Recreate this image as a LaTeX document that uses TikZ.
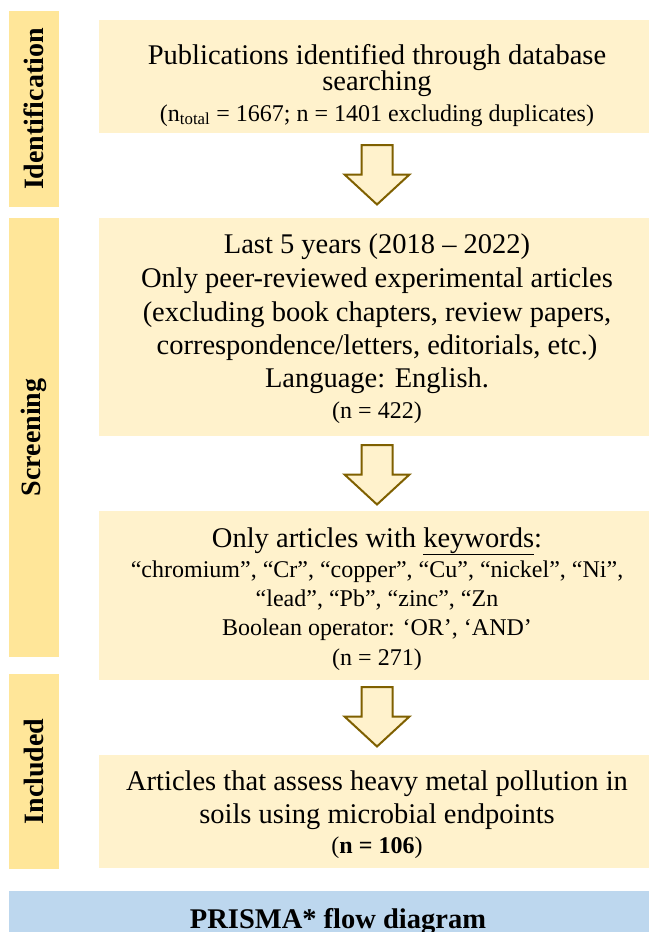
\documentclass[tikz,border=0pt]{standalone}
\usepackage{fontspec}
\setmainfont{Liberation Serif}
\definecolor{sidebar}{HTML}{FFE699}
\definecolor{boxfill}{HTML}{FFF2CC}
\definecolor{bluebar}{HTML}{BDD7EE}
\definecolor{arrowline}{HTML}{7F6000}
\tikzset{
  panel/.style={fill=boxfill, draw=none, inner sep=0pt, outer sep=0pt, anchor=north west, minimum width=550pt},
  stagebar/.style={fill=sidebar, draw=none, inner sep=0pt, outer sep=0pt, anchor=north west, minimum width=50pt},
  bigline/.style={font=\fontsize{28.5}{33}\selectfont, anchor=base, inner sep=0pt},
  smallline/.style={font=\fontsize{24}{29}\selectfont, anchor=base, inner sep=0pt},
  stagelabel/.style={font=\bfseries\fontsize{28}{30}\selectfont, rotate=90, inner sep=0pt},
  blockarrow/.style={draw=arrowline, fill=boxfill, line width=2pt, line join=miter},
  pics/downarrow/.style={code={
    \draw[blockarrow] (-15.5,0) -- (15.5,0) -- (15.5,29.5) -- (32.5,29.5) -- (0,59.5)
      -- (-32.5,29.5) -- (-15.5,29.5) -- cycle;
  }}
}
\begin{document}
\begin{tikzpicture}[x=1pt,y=-1pt]
\useasboundingbox (0,0) rectangle (649,932);
% stage bars
\node[stagebar, minimum height=196pt] (idbar) at (9,11) {};
\node[stagebar, minimum height=439pt] (scbar) at (9,218) {};
\node[stagebar, minimum height=195pt] (inbar) at (9,674) {};
\node[stagelabel] (idlabel) at (idbar.center) {Identification};
\node[stagelabel] (sclabel) at (scbar.center) {Screening};
\node[stagelabel] (inlabel) at (inbar.center) {Included};
% panels
\node[panel, minimum height=113pt] (b1) at (99,20) {};
\node[panel, minimum height=218pt] (b2) at (99,218) {};
\node[panel, minimum height=169pt] (b3) at (99,511) {};
\node[panel, minimum height=113pt] (b4) at (99,755) {};
% box 1 text
\node[bigline] (t11) at (377,64) {Publications identified through database};
\node[bigline] (t12) at (377,90) {searching};
\node[smallline] (t13) at (377,121) {(n\textsubscript{total} = 1667; n = 1401 excluding duplicates)};
% box 2 text
\node[bigline] (t21) at (377,253) {Last 5 years (2018 – 2022)};
\node[bigline] (t22) at (377,287) {Only peer-reviewed experimental articles};
\node[bigline] (t23) at (377,321) {(excluding book chapters, review papers,};
\node[bigline] (t24) at (377,354) {correspondence/letters, editorials, etc.)};
\node[bigline] (t25) at (377,387) {Language: English.};
\node[smallline] (t26) at (377,418) {(n = 422)};
% box 3 text
\node[bigline] (t31) at (377,547) {Only articles with \underline{keywords}:};
\node[smallline] (t32) at (377,577) {“chromium”, “Cr”, “copper”, “Cu”, “nickel”, “Ni”,};
\node[smallline] (t33) at (377,606) {“lead”, “Pb”, “zinc”, “Zn};
\node[smallline] (t34) at (377,635) {Boolean operator: ‘OR’, ‘AND’};
\node[smallline] (t35) at (377,665) {(n = 271)};
% box 4 text
\node[bigline] (t41) at (377,790) {Articles that assess heavy metal pollution in};
\node[bigline] (t42) at (377,823) {soils using microbial endpoints};
\node[smallline] (t43) at (377,853) {(\textbf{n = 106})};
% arrows
\coordinate (a1) at (377,145);
\coordinate (a2) at (377,445);
\coordinate (a3) at (377,687);
\pic at (a1) {downarrow};
\pic at (a2) {downarrow};
\pic at (a3) {downarrow};
% bottom bar
\node[fill=bluebar, draw=none, inner sep=0pt, outer sep=0pt, anchor=north west, minimum width=640pt, minimum height=41pt] (bottom) at (9,891) {};
\node[font=\bfseries\fontsize{28.5}{33}\selectfont, anchor=base, inner sep=0pt] (title) at (338,928) {PRISMA* flow diagram};
\end{tikzpicture}
\end{document}
